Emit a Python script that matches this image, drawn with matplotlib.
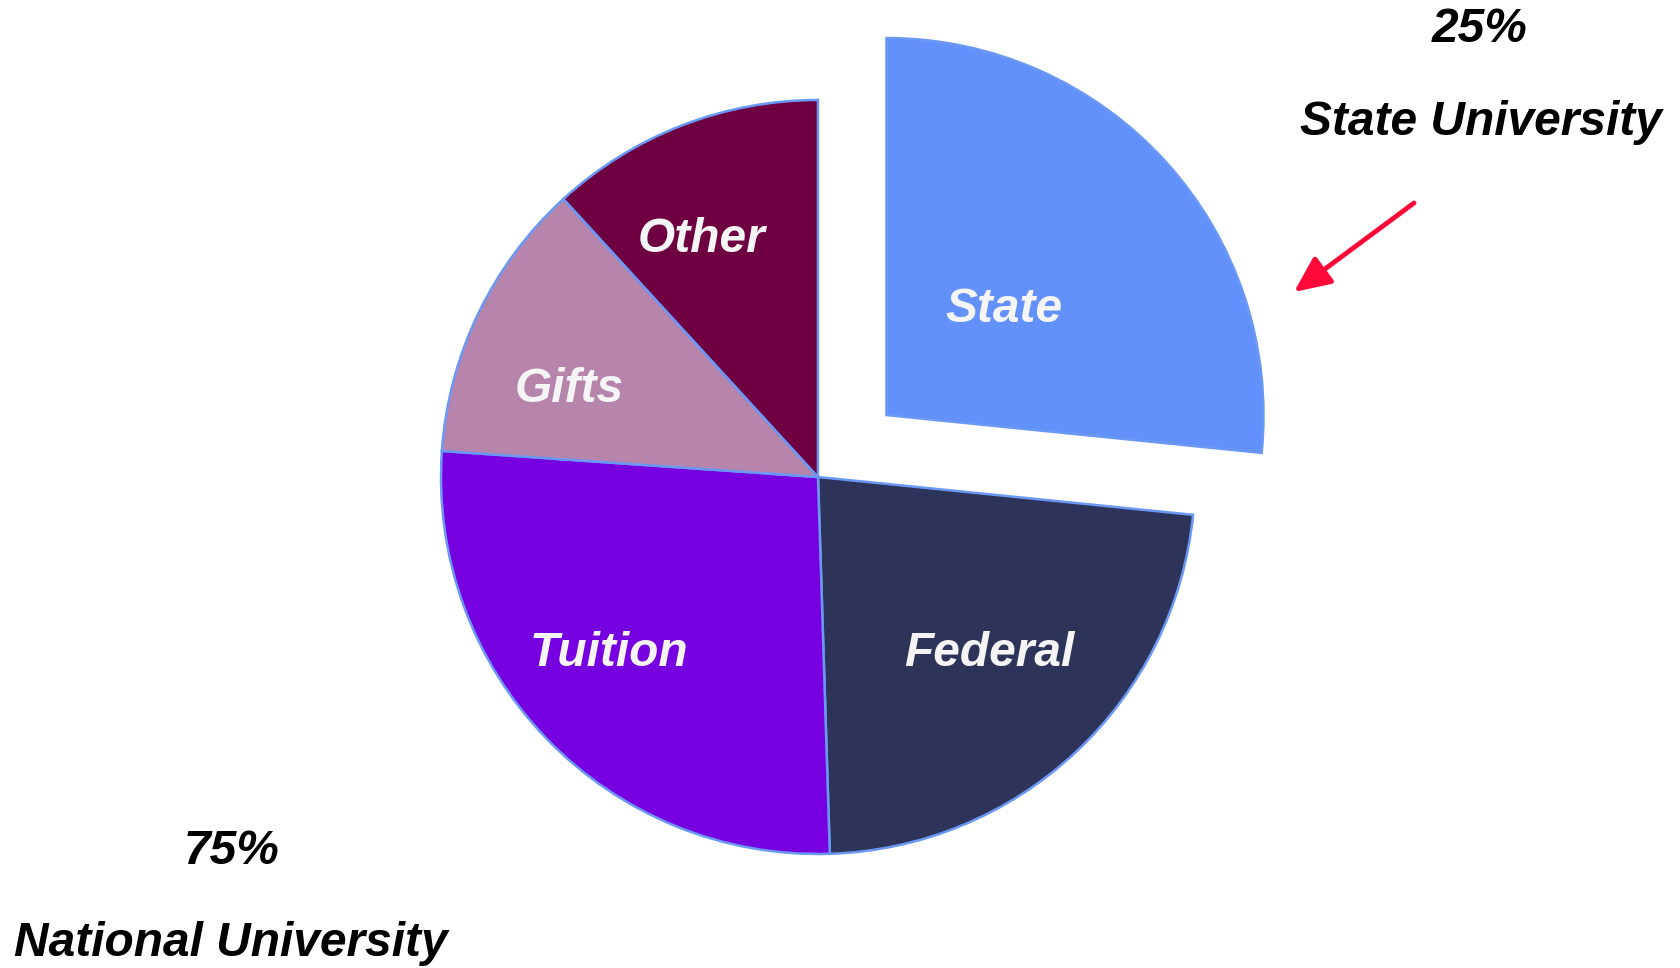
import matplotlib
matplotlib.use("Agg")
import matplotlib.pyplot as plt
import numpy as np

# funding sources, clockwise from 12 o'clock
sources = ["State", "Federal", "Tuition", "Gifts", "Other"]
shares = [26.6, 22.9, 26.6, 12.1, 11.8]
colors = ["#6391FB", "#2E3359", "#7700E0", "#B784AB", "#6E0042"]
explode = [0.245, 0, 0, 0, 0]

state_note = ["25%", "State University"]
national_note = ["75%", "National University"]

W, H = 1680, 968
cx, cy, R = 818, 477, 377   # pie centre / radius in pixels

fig = plt.figure(figsize=(W / 100, H / 100), dpi=100)
ax = fig.add_axes([0, 0, 1, 1])

wedges, _ = ax.pie(shares, colors=colors, explode=explode, startangle=90,
                   counterclock=False, radius=1,
                   wedgeprops=dict(edgecolor="#6A98F5", linewidth=1.8))

# pie() resets the limits, so set them afterwards
ax.set_xlim(-cx / R, (W - cx) / R)
ax.set_ylim(-(H - cy) / R, cy / R)
ax.set_aspect("equal")
ax.axis("off")

# label spots inside the wedges (pixel coords)
label_px = [(1004, 309), (989, 654), (609, 654), (569, 390), (702, 239)]
font = dict(family=["Liberation Sans", "DejaVu Sans"], weight="bold",
            style="italic", fontsize=34.5)
for name, (px, py) in zip(sources, label_px):
    ax.text((px - cx) / R, (cy - py) / R, name, color="#F5F5F5",
            ha="center", va="center", **font)


def to_fig(px, py):
    return px / W, 1 - py / H


fig.text(*to_fig(1480, 29), state_note[0], ha="center", va="center", color="black", **font)
fig.text(*to_fig(1481, 123), state_note[1], ha="center", va="center", color="black", **font)
fig.text(*to_fig(232, 851), national_note[0], ha="center", va="center", color="black", **font)
fig.text(*to_fig(231, 944), national_note[1], ha="center", va="center", color="black", **font)

ax.annotate("", xy=((1294 - cx) / R, (cy - 292) / R),
            xytext=((1414 - cx) / R, (cy - 203) / R),
            annotation_clip=False,
            arrowprops=dict(arrowstyle="-|>,head_length=2.2,head_width=1.0",
                            color="#FF0A38", lw=3.5, shrinkA=0, shrinkB=0))

fig.savefig("out.png", dpi=100)
